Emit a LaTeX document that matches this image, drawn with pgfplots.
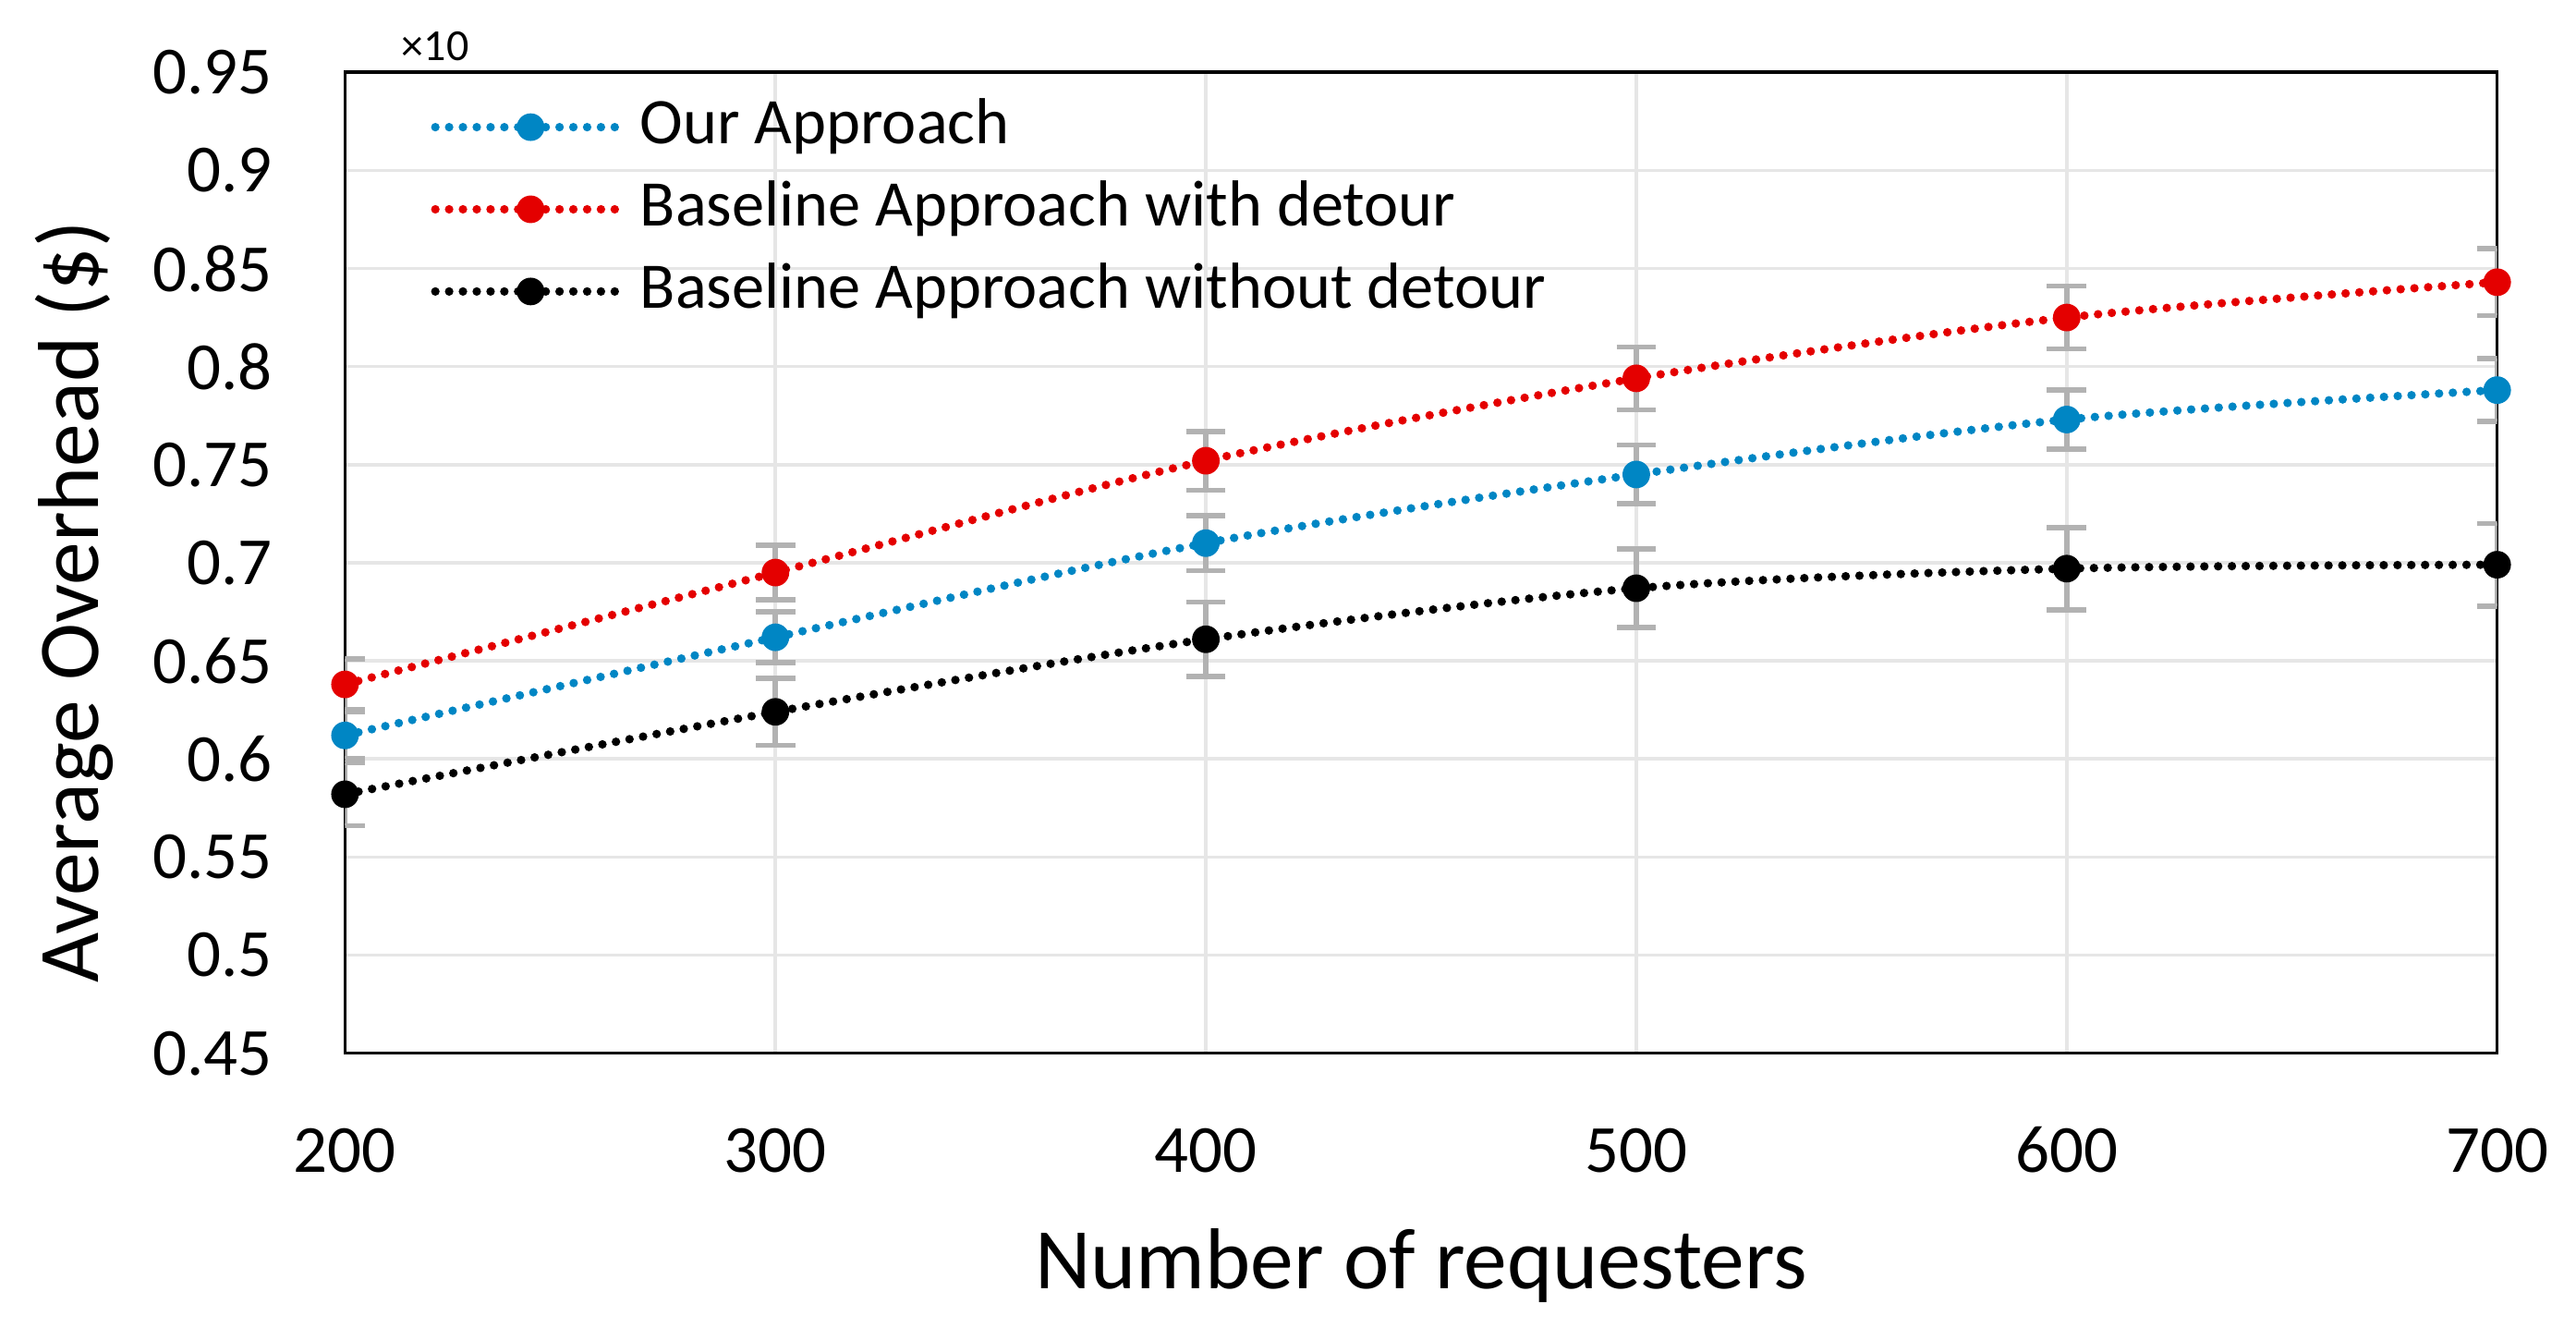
\documentclass[border=0pt]{standalone}
\usepackage{fontspec}
\setmainfont{Carlito}
\usepackage{pgfplots}
\pgfplotsset{compat=1.18}
\definecolor{ourblue}{RGB}{0,134,196}
\definecolor{bred}{RGB}{228,0,0}
\definecolor{errgray}{RGB}{178,178,178}
\definecolor{gridgray}{RGB}{230,230,230}

\pgfplotstableread{
x y e
200 0.612 0.012
300 0.662 0.013
400 0.710 0.014
500 0.745 0.015
600 0.773 0.015
700 0.788 0.016
}\ours
\pgfplotstableread{
x y e
200 0.638 0.013
300 0.695 0.014
400 0.752 0.015
500 0.794 0.016
600 0.825 0.016
700 0.843 0.017
}\withdetour
\pgfplotstableread{
x y e
200 0.582 0.016
300 0.624 0.017
400 0.661 0.019
500 0.687 0.020
600 0.697 0.021
700 0.699 0.021
}\withoutdetour

\begin{document}
\begin{tikzpicture}
\begin{axis}[
  scale only axis,
  width=655bp, height=298.5bp,
  xmin=200, xmax=700, ymin=0.45, ymax=0.95,
  xtick={200,300,400,500,600,700},
  ytick={0.45,0.5,0.55,0.6,0.65,0.7,0.75,0.8,0.85,0.9,0.95},
  yticklabels={0.45,0.5,0.55,0.6,0.65,0.7,0.75,0.8,0.85,0.9,0.95},
  /pgf/number format/assume math mode=true,
  xticklabel style={font=\fontsize{20.5bp}{24bp}\selectfont, anchor=center, inner sep=0pt, yshift=-29.5bp},
  yticklabel style={font=\fontsize{20.5bp}{24bp}\selectfont, anchor=east, inner sep=0pt, xshift=-22bp},
  major tick length=0pt,
  grid=major,
  major grid style={gridgray, line width=1bp},
  axis line style={black, line width=1bp},
  every axis x label/.style={at={(rel axis cs:0.5,0)}, anchor=center, yshift=-64.5bp, font=\fontsize{26.3bp}{30bp}\selectfont},
  every axis y label/.style={at={(rel axis cs:0,0.5)}, xshift=-82.5bp, yshift=-12bp, rotate=90, anchor=center, font=\fontsize{26.3bp}{30bp}\selectfont},
  xlabel={Number of requesters},
  ylabel={Average Overhead (\$)},
  legend cell align=left,
  legend style={at={(rel axis cs:0,1)}, anchor=north west, xshift=26bp, yshift=-7bp,
    draw=none, fill=none, inner sep=0pt, row sep=6bp,
    font=\fontsize{19.8bp}{23bp}\selectfont,
    nodes={inner sep=1bp, text height=13.5bp, text depth=3.5bp},
    /tikz/every odd column/.style={column sep=2bp}},
  legend image code/.code={\draw[#1, mark repeat=2, mark phase=2] plot coordinates {(0bp,0bp) (29bp,0bp) (58bp,0bp)};},
  every axis plot/.append style={line width=2.6bp, line cap=round, dash pattern=on 0bp off 4.2bp, smooth, mark=*, mark size=4bp,
    every mark/.append style={solid, line width=0.4bp}},
  error bars/y dir=both, error bars/y explicit,
  error bars/error bar style={errgray, line width=1.6bp, solid, line cap=butt},
  error bars/error mark options={errgray, rotate=90, mark size=6bp, line width=1.6bp, solid},
]
\addplot[ourblue, mark options={solid, line width=0.4bp, fill=ourblue}] table[x=x, y=y, y error=e] {\ours};
\addlegendentry{Our Approach}
\addplot[bred, mark options={solid, line width=0.4bp, fill=bred}] table[x=x, y=y, y error=e] {\withdetour};
\addlegendentry{Baseline Approach with detour}
\addplot[black, mark options={solid, line width=0.4bp, fill=black}] table[x=x, y=y, y error=e] {\withoutdetour};
\addlegendentry{Baseline Approach without detour}
\end{axis}
\node[font=\fontsize{13.5bp}{15bp}\selectfont, anchor=center] at ([xshift=27.5bp, yshift=8bp]current axis.north west) {×10};
\pgfresetboundingbox
\path[use as bounding box] ([xshift=-105bp, yshift=-87bp]current axis.south west) rectangle ([xshift=24bp, yshift=22bp]current axis.north east);
\end{tikzpicture}
\end{document}
